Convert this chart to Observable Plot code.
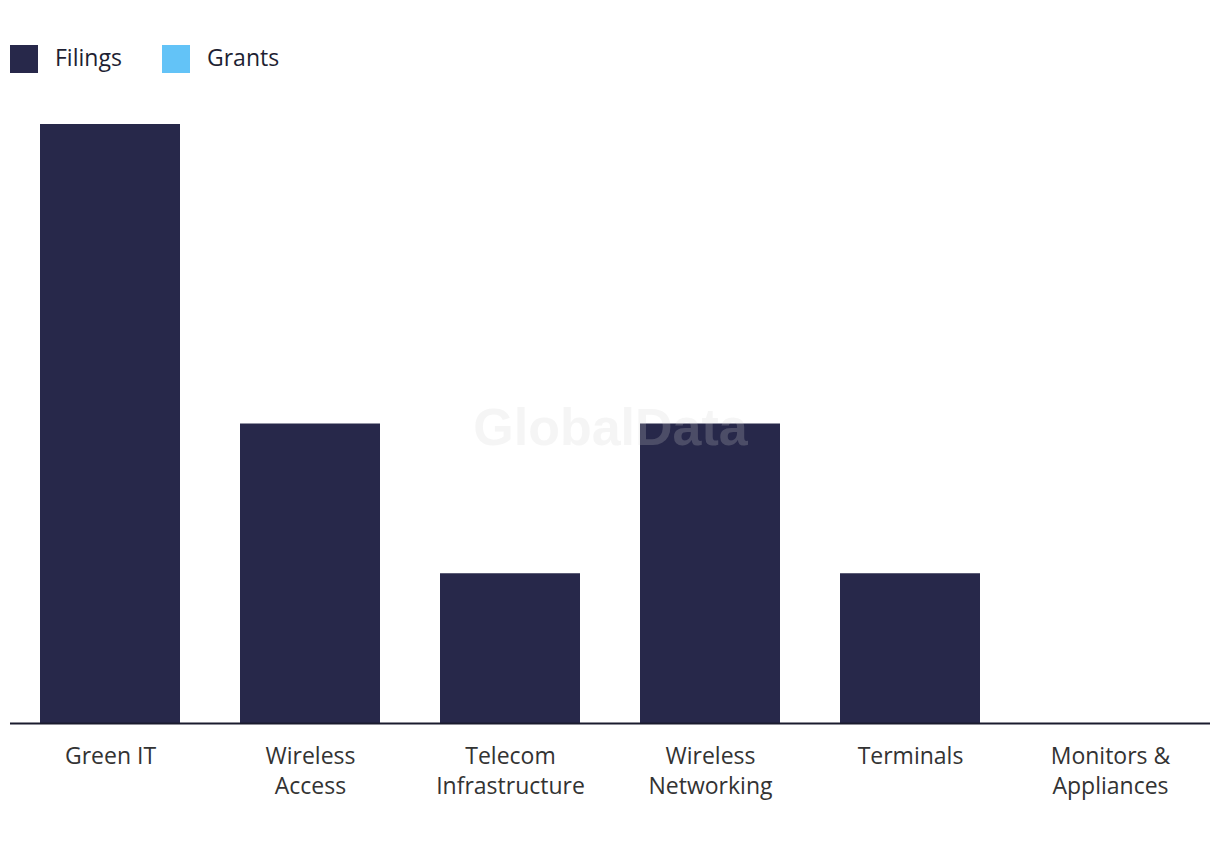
<!DOCTYPE html>
<html>
<head>
<meta charset="utf-8">
<script src="https://cdn.jsdelivr.net/npm/d3@7"></script>
<script src="https://cdn.jsdelivr.net/npm/@observablehq/plot@0.6"></script>
<style>
  html, body { margin: 0; padding: 0; background: #fff; }
  body { width: 1220px; font-family: "Open Sans", Roboto, sans-serif; }
  #legend { height: 110px; position: relative; }
  .item { position: absolute; top: 45px; display: flex; align-items: center; }
  .sw { width: 28px; height: 28px; display: inline-block; }
  .lab { font-size: 23px; color: #1e1f33; margin-left: 17px; line-height: 28px; position: relative; top: -2px; }
  #chart svg { display: block; }
</style>
</head>
<body>
<div id="legend"></div>
<div id="chart"></div>
<script>
const categories = ["Green IT", "Wireless Access", "Telecom Infrastructure", "Wireless Networking", "Terminals", "Monitors & Appliances"];
const tickLabels = ["Green IT", "Wireless\nAccess", "Telecom\nInfrastructure", "Wireless\nNetworking", "Terminals", "Monitors &\nAppliances"];
const seriesNames = ["Filings", "Grants"];
const seriesColors = ["#27284a", "#63c3f7"];
const filings = [4, 2, 1, 2, 1, 0];
const grants = [0, 0, 0, 0, 0, 0];

const data = [];
categories.forEach((c, i) => {
  data.push({category: c, series: "Filings", value: filings[i]});
  data.push({category: c, series: "Grants", value: grants[i]});
});

// legend
const legend = document.getElementById("legend");
const lx = [10, 162];
seriesNames.forEach((s, i) => {
  const it = document.createElement("div");
  it.className = "item";
  it.style.left = lx[i] + "px";
  it.innerHTML = `<span class="sw" style="background:${seriesColors[i]}"></span><span class="lab">${s}</span>`;
  legend.appendChild(it);
});

const labelMap = new Map(categories.map((c, i) => [c, tickLabels[i]]));

const chart = Plot.plot({
  width: 1220,
  height: 723,
  marginTop: 14,
  marginBottom: 110,
  marginLeft: 10,
  marginRight: 10,
  style: {fontFamily: "'Open Sans', Roboto, sans-serif", background: "#fff"},
  x: {domain: categories, paddingInner: 0.3, paddingOuter: 0.15},
  y: {domain: [0, 4], axis: null},
  color: {domain: seriesNames, range: seriesColors},
  marks: [
    Plot.barY(data, {x: "category", y: "value", fill: "series"}),
    Plot.text(["GlobalData"], {frameAnchor: "middle", dy: 4, fontSize: 52, fontWeight: "bold", fontFamily: "'Liberation Sans', Arial, sans-serif", fill: "#d1d1d1", fillOpacity: 0.22}),
    Plot.ruleY([0], {stroke: "#1a1b2e", strokeWidth: 2}),
    Plot.axisX({
      tickSize: 0,
      tickPadding: 19,
      fontSize: 23,
      lineHeight: 1.3,
      fill: "#333",
      tickFormat: d => labelMap.get(d),
      label: null
    })
  ]
});
document.getElementById("chart").appendChild(chart);
</script>
</body>
</html>
